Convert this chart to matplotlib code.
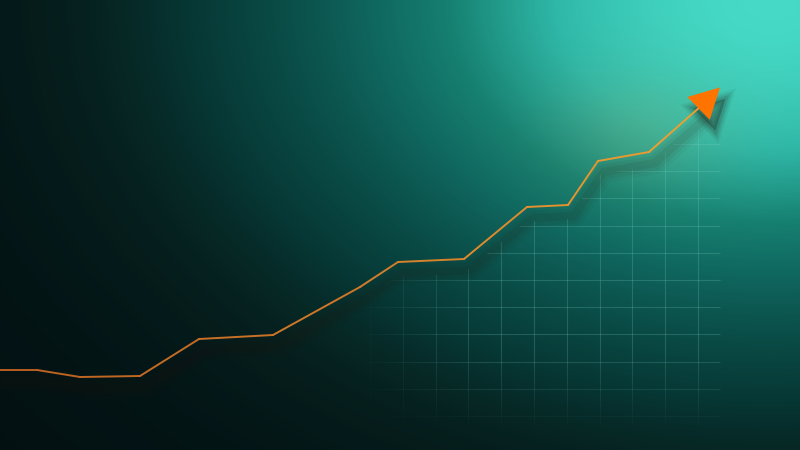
import numpy as np
import matplotlib
matplotlib.use('Agg')
import matplotlib.pyplot as plt
from matplotlib.collections import LineCollection
from matplotlib.colors import LinearSegmentedColormap, to_rgb
from matplotlib.patches import Polygon
from matplotlib.transforms import ScaledTranslation

# data (x position, value)
x_vals = [0, 37, 80, 140, 199, 273, 360, 398, 464, 527, 568, 598, 649, 700]
y_vals = [80, 80, 73, 74, 111, 115, 163, 188, 191, 243, 245, 289, 298, 343]

W, H = 800, 450

fig = plt.figure(figsize=(8, 4.5), dpi=100)
ax = fig.add_axes([0, 0, 1, 1])
ax.set_xlim(0, W)
ax.set_ylim(0, H)
ax.axis('off')

# background gradient, bright teal glow at top right
yy, xx = np.mgrid[0:H, 0:W]
d = ((xx - 770) / 450.0) ** 2 + ((yy - 0) / 310.0) ** 2
w = np.exp(-d)
bg_cmap = LinearSegmentedColormap.from_list(
    'bg', [(0.0, '#031012'), (0.1, '#062220'), (0.2, '#073a37'), (0.45, '#0f665e'),
           (0.6, '#168071'), (0.8, '#2fb8a8'), (1.0, '#46dac6')])
rgb = bg_cmap(w)[..., :3]
# warm glow near the arrow
g = np.exp(-(((xx - 640) / 90.0) ** 2 + ((yy - 130) / 60.0) ** 2))
rgb = rgb * (1 - 0.15 * g[..., None]) + np.array(to_rgb('#c8a040')) * 0.15 * g[..., None]
ax.imshow(rgb, extent=(0, W, 0, H), origin='upper', aspect='auto', zorder=0)

# grid below the line, fading to the left and bottom
gx = 370 + 32.8 * np.arange(11)
gy_px = 144 + 27.2 * np.arange(11)
segs, cols = [], []
grid_rgb = to_rgb('#7fd8c8')


def fade(px, py):
    a = np.clip((px - 355) / 130.0, 0, 1) * np.clip((430 - py) / 80.0, 0, 1)
    return 0.22 * a


for x in gx:
    ys = np.arange(130, 430, 5)
    for y0, y1 in zip(ys[:-1], ys[1:]):
        segs.append([(x, H - y0), (x, H - y1)])
        cols.append((*grid_rgb, fade(x, (y0 + y1) / 2)))
for y in gy_px:
    xs = np.arange(360, 725, 5)
    for x0, x1 in zip(xs[:-1], xs[1:]):
        segs.append([(x0, H - y), (x1, H - y)])
        cols.append((*grid_rgb, fade((x0 + x1) / 2, y)))
grid = LineCollection(segs, colors=cols, linewidths=0.8, zorder=1)
ax.add_collection(grid)
clip = Polygon(list(zip(x_vals, np.array(y_vals) - 14)) + [(725, 330), (725, 0), (0, 0)],
               closed=True, transform=ax.transData, visible=False)
ax.add_patch(clip)
grid.set_clip_path(clip)

# arrow head from the last segment direction
p0 = np.array([x_vals[-2], y_vals[-2]], float)
p1 = np.array([x_vals[-1], y_vals[-1]], float)
u = (p1 - p0) / np.linalg.norm(p1 - p0)
ang = np.deg2rad(3)
u = np.array([u[0] * np.cos(ang) - u[1] * np.sin(ang), u[0] * np.sin(ang) + u[1] * np.cos(ang)])
n = np.array([-u[1], u[0]])
tip = p1 + u * 28
head = [tip, p1 + n * 16 - u * 2, p1 - n * 16 - u * 2]

# soft shadow of line and head
for lw, al in [(16, 0.04), (11, 0.06), (6, 0.08)]:
    off = ax.transData + ScaledTranslation(4 / 72, -8 / 72, fig.dpi_scale_trans)
    ax.plot(x_vals, y_vals, color='#2a1408', lw=lw, alpha=al, transform=off,
            solid_joinstyle='round', solid_capstyle='round', zorder=2)
    ax.add_patch(Polygon(head, closed=True, color='#1a0e06', alpha=al * 1.5,
                         lw=lw * 0.6, transform=off, zorder=2))

# line with colour shifting from dark to bright orange
pts = np.column_stack([x_vals, y_vals])
line_segs = np.stack([pts[:-1], pts[1:]], axis=1)
line_cmap = LinearSegmentedColormap.from_list('ln', ['#b85e20', '#d07a2a', '#eea232'])
mid = (pts[:-1, 0] + pts[1:, 0]) / 2 / 700.0
lc = LineCollection(line_segs, colors=line_cmap(mid), linewidths=1.4,
                    capstyle='round', joinstyle='round', zorder=3)
ax.add_collection(lc)

ax.add_patch(Polygon(head, closed=True, facecolor='#ff7400', edgecolor='none', zorder=4))

fig.savefig('out.png', dpi=100)
